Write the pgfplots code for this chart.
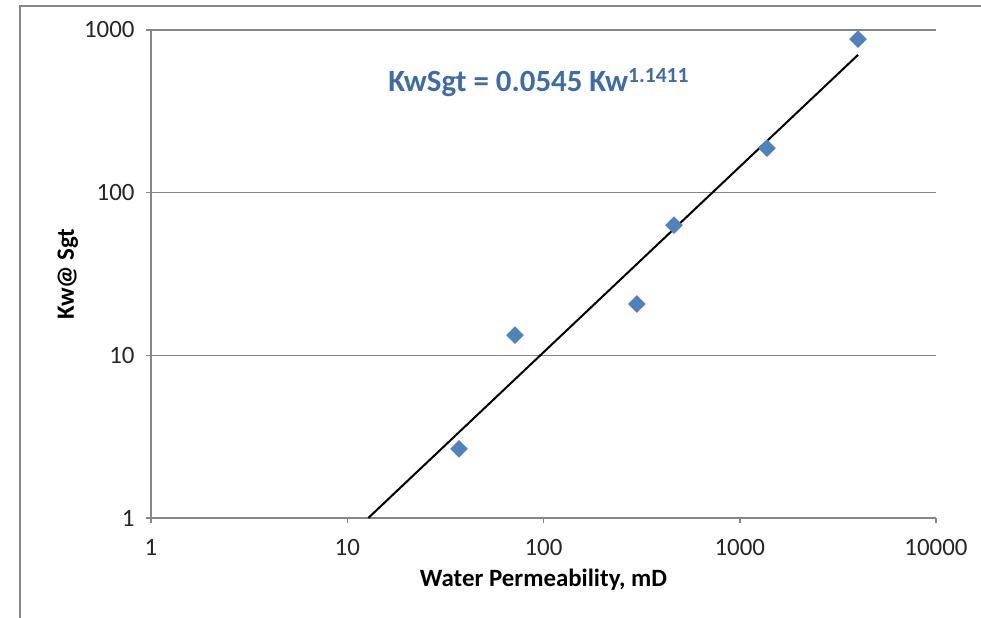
\documentclass[border=0pt]{standalone}
\usepackage{pgfplots}
\pgfplotsset{compat=1.18}
\usepackage{fontspec}
\setmainfont{Carlito}
\definecolor{ptblue}{HTML}{4F81BD}
\definecolor{txtblue}{HTML}{3E6DA5}
\definecolor{axgray}{HTML}{868686}
\begin{document}
\begin{tikzpicture}[x=1bp,y=1bp]
\useasboundingbox (0,0) rectangle (981,618);
\draw[axgray, line width=2bp] (20,-5) -- (20,612) -- (990,612);
\begin{axis}[
  at={(151bp,100bp)}, anchor=south west,
  scale only axis, width=785bp, height=488bp,
  xmode=log, ymode=log,
  xmin=1, xmax=10000, ymin=1, ymax=1000,
  axis x line*=bottom, axis y line*=left,
  axis line style={axgray, line width=1.5bp},
  xminorticks=false, yminorticks=false,
  xtick={1,10,100,1000,10000}, xticklabels={1,10,100,1000,10000},
  ytick={1,10,100,1000}, yticklabels={1,10,100,1000},
  tick align=outside, major tick length=5bp,
  tick style={axgray, line width=1.5bp},
  ymajorgrids, grid style={axgray, line width=1.5bp},
  ticklabel style={font=\fontsize{25}{29}\selectfont, text=black!85},
  xticklabel style={yshift=-13bp},
  yticklabel style={xshift=-8bp},
  /pgf/number format/assume math mode=true,
  xlabel={\textbf{Water Permeability, mD}},
  ylabel={\textbf{Kw@ Sgt}},
  label style={font=\fontsize{25}{29}\selectfont},
  xlabel style={at={(axis description cs:0.5,-0.127)}, anchor=center},
  ylabel style={at={(axis description cs:-0.106,0.5)}, anchor=center},
  clip=false,
]
\addplot[only marks, mark=square*, mark size=6bp, mark options={rotate=45, fill=ptblue, draw=ptblue}]
  coordinates {(37.1,2.66) (71.6,13.3) (299,20.7) (462,63.2) (1377,188) (4005,879)};
\addplot[black, line width=2bp, no marks] coordinates {(12.8,1) (4005,703)};
\node[anchor=base west, text=txtblue, font=\fontsize{31}{35}\selectfont\bfseries, inner sep=0pt]
  at (rel axis cs:0.302,0.873) {KwSgt = 0.0545 Kw\textsuperscript{1.1411}};
\end{axis}
\end{tikzpicture}
\end{document}
